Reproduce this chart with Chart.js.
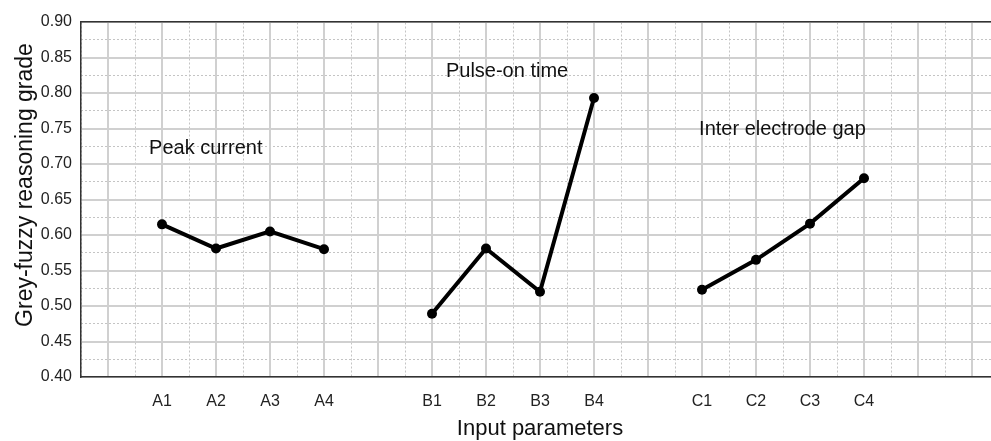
<!DOCTYPE html>
<html>
<head>
<meta charset="utf-8">
<title>Grey-fuzzy reasoning grade</title>
<script src="https://cdn.jsdelivr.net/npm/chart.js@4.4.1/dist/chart.umd.min.js"></script>
<style>
    html, body { margin: 0; padding: 0; background: #fff; overflow: hidden; }
    #wrap { width: 991px; height: 441px; overflow: hidden; }
</style>
</head>
<body>
<div id="wrap"><canvas id="gradeChart" width="1010" height="441"></canvas></div>
<script>
// ---------------------------------------------
// Data
// ---------------------------------------------
const categories = ['', 'A1', 'A2', 'A3', 'A4', '', 'B1', 'B2', 'B3', 'B4', '', 'C1', 'C2', 'C3', 'C4', '', ''];

const peakCurrent       = [0.615, 0.581, 0.605, 0.580];
const pulseOnTime       = [0.489, 0.581, 0.520, 0.793];
const interElectrodeGap = [0.523, 0.565, 0.616, 0.680];

// first category index of each group
const groupStarts = [1, 6, 11];
const groups = [peakCurrent, pulseOnTime, interElectrodeGap];

const groupNames = ['Peak current', 'Pulse-on time', 'Inter electrode gap'];
const groupNameX = [1.81, 7.39, 12.49];   // category position of label centre
const groupNameY = [0.7225, 0.831, 0.748];

const yMin = 0.40;
const yMax = 0.90;
const yStep = 0.05;

// one series, nulls break the line between groups
const series = categories.map(() => null);
groups.forEach((vals, g) => {
    vals.forEach((v, i) => { series[groupStarts[g] + i] = v; });
});

const FONT = "'Liberation Sans', Arial, sans-serif";

// ---------------------------------------------
// Text plugin: group names + y title
// ---------------------------------------------
const textPlugin = {
    id: 'textPlugin',
    afterDatasetsDraw(chart) {
        const { ctx, scales } = chart;
        ctx.save();
        ctx.fillStyle = '#111';
        ctx.font = `20px ${FONT}`;
        ctx.textAlign = 'center';
        ctx.textBaseline = 'middle';
        groupNames.forEach((name, i) => {
            ctx.fillText(name, scales.x.getPixelForValue(groupNameX[i]), scales.y.getPixelForValue(groupNameY[i]));
        });

        ctx.translate(32, 185);
        ctx.rotate(-Math.PI / 2);
        ctx.font = `23px ${FONT}`;
        ctx.textBaseline = 'alphabetic';
        ctx.fillText('Grey-fuzzy reasoning grade', 0, 0);
        ctx.restore();
    }
};

// ---------------------------------------------
// Chart
// ---------------------------------------------
const ctx = document.getElementById('gradeChart');
new Chart(ctx, {
    type: 'line',
    data: {
        labels: categories,
        datasets: [{
            data: series,
            borderColor: '#000',
            backgroundColor: '#000',
            borderWidth: 4,
            pointRadius: 5,
            pointBackgroundColor: '#000',
            pointBorderWidth: 0,
            spanGaps: false,
            tension: 0
        }]
    },
    options: {
        responsive: false,
        animation: false,
        devicePixelRatio: 1,
        layout: { padding: { top: 22, right: 11, left: 0, bottom: 0 } },
        plugins: {
            legend: { display: false },
            tooltip: { enabled: false }
        },
        scales: {
            x: {
                type: 'category',
                position: 'bottom',
                offset: true,
                grid: { offset: false, color: '#d0d0d0', lineWidth: 2, drawTicks: false, z: -1 },
                border: { display: true, color: '#333', width: 1.5 },
                ticks: { color: '#222', padding: 15, font: { family: FONT, size: 16 }, maxRotation: 0, autoSkip: false },
                title: { display: true, text: 'Input parameters', color: '#111', font: { family: FONT, size: 22, lineHeight: 1 }, padding: { top: 0, bottom: 1 } },
                afterFit: s => { s.height = 64; }
            },
            x2: {
                type: 'category',
                position: 'top',
                offset: true,
                grid: { offset: true, color: '#c4c4c4', lineWidth: 1, drawTicks: false, z: -2 },
                border: { display: true, color: '#333', width: 1.5, dash: [2, 2] },
                ticks: { display: false }
            },
            y: {
                min: yMin,
                max: yMax,
                position: 'left',
                grid: { color: '#d0d0d0', lineWidth: 2, drawTicks: false, z: -1 },
                border: { display: true, color: '#333', width: 1.5 },
                ticks: {
                    stepSize: yStep,
                    color: '#222',
                    padding: 9,
                    font: { family: FONT, size: 16 },
                    callback: v => v.toFixed(2)
                },
                afterFit: s => { s.width = 81; }
            },
            y2: {
                min: yMin,
                max: yMax,
                position: 'right',
                grid: { color: '#c4c4c4', lineWidth: 1, drawTicks: false, z: -2 },
                border: { display: false, dash: [2, 2] },
                ticks: { display: false, stepSize: yStep / 2 },
                afterBuildTicks: s => {
                    s.ticks = s.ticks.filter(t => Math.round(t.value / (yStep / 2)) % 2 === 1);
                }
            }
        }
    },
    plugins: [textPlugin]
});
</script>
</body>
</html>
